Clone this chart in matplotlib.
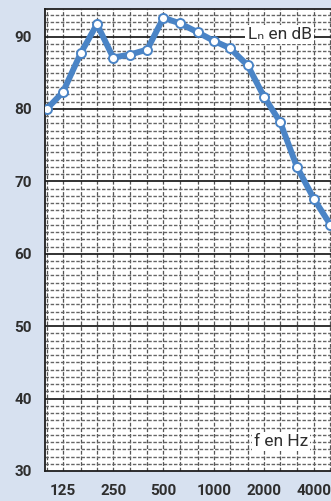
import matplotlib
matplotlib.use("Agg")
import matplotlib.pyplot as plt
import numpy as np

# Data
freqs = [100, 125, 160, 200, 250, 315, 400, 500, 630, 800, 1000,
         1250, 1600, 2000, 2500, 3150, 4000, 5000]
levels = [80.0, 82.3, 87.7, 91.7, 87.1, 87.5, 88.2, 92.6, 91.8, 90.6, 89.4,
          88.4, 86.0, 81.7, 78.2, 72.0, 67.5, 64.0]
xtick_vals = [125, 250, 500, 1000, 2000, 4000]
xtick_labels = ["125", "250", "500", "1000", "2000", "4000"]
ytick_vals = [30, 40, 50, 60, 70, 80, 90]
ylabel_text = "Lₙ en dB"
xlabel_text = "f en Hz"

BG = "#d7e1f0"
BLUE = "#4a84c6"
TXT = "#2e2e2e"

W, H = 331, 501
fig = plt.figure(figsize=(W / 100, H / 100), dpi=100, facecolor=BG)
left_px, right_px, top_px, bot_px = 45, 336, 9, 471
ax = fig.add_axes([left_px / W, (H - bot_px) / H,
                   (right_px - left_px) / W, (bot_px - top_px) / H])
ax.set_facecolor("white")

ax.set_xscale("log")
ax.set_xlim(97.7, 5400)
ax.set_ylim(30, 93.8)

# grid: vertical third-octave lines
for f in freqs:
    ax.axvline(f, color="#555555", lw=0.9, ls=(0, (3, 1.5)), zorder=1)
# horizontal 1 dB lines
for v in range(31, 94):
    if v % 10 == 0:
        ax.axhline(v, color="#222222", lw=1.3, zorder=1.2)
    else:
        ax.axhline(v, color="#666666", lw=1.0, ls=(0, (2.5, 1.2)), zorder=1)

ax.plot(freqs, levels, color=BLUE, lw=4.3, marker="o", markersize=6.5,
        markerfacecolor="white", markeredgecolor=BLUE, markeredgewidth=1.4,
        zorder=5, solid_capstyle="round", clip_on=True)

ax.set_xticks(xtick_vals)
ax.set_xticklabels(xtick_labels)
ax.xaxis.set_minor_locator(matplotlib.ticker.NullLocator())
ax.set_yticks(ytick_vals)
ax.set_yticklabels([str(v) for v in ytick_vals])
ax.tick_params(axis="both", length=0, labelsize=11, labelcolor=TXT)
ax.tick_params(axis="x", pad=9.7)
ax.tick_params(axis="y", pad=9.4)
for lab in ax.get_xticklabels() + ax.get_yticklabels():
    lab.set_fontfamily("Roboto")
    lab.set_fontweight("bold")

for s in ["left", "bottom", "top"]:
    ax.spines[s].set_color("#1e1e1e")
    ax.spines[s].set_linewidth(1.3)
ax.spines["right"].set_visible(False)

box = dict(boxstyle="square,pad=0.12", facecolor="white", edgecolor="none")
ax.text(0.806, 0.944, ylabel_text, transform=ax.transAxes, ha="center",
        va="center", fontsize=12.5, color=TXT, family=["Roboto", "DejaVu Sans"],
        bbox=box, zorder=6)
ax.text(0.811, 0.063, xlabel_text, transform=ax.transAxes, ha="center",
        va="center", fontsize=12.5, color=TXT, family=["Roboto", "DejaVu Sans"],
        bbox=box, zorder=6)

fig.savefig("out.png", dpi=100, facecolor=BG)
